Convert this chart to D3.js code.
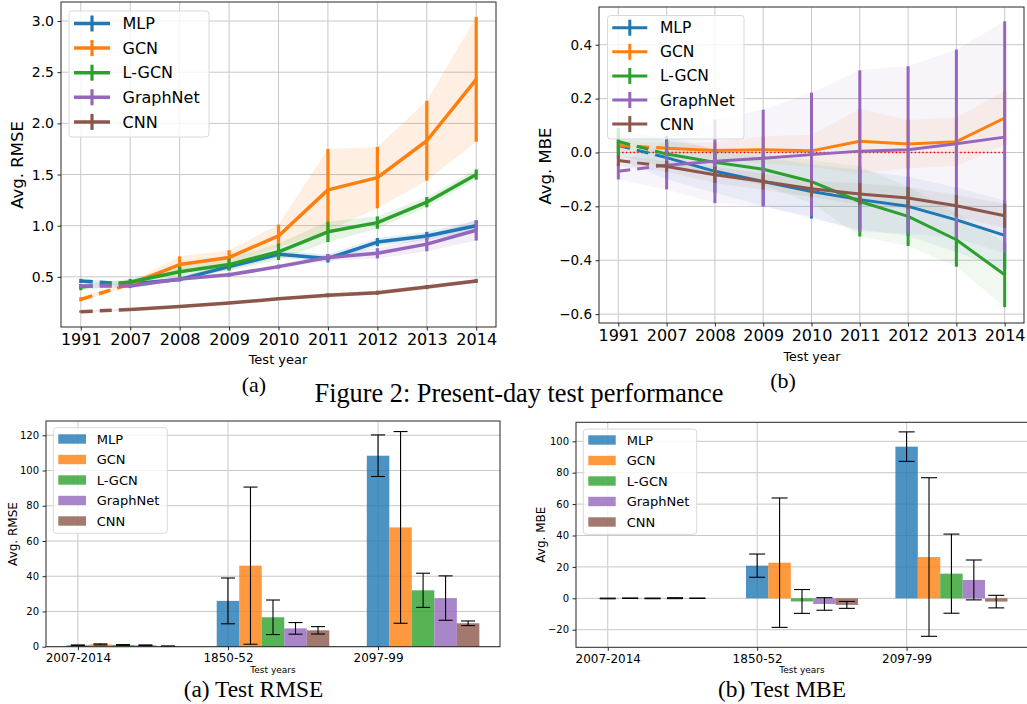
<!DOCTYPE html>
<html><head><meta charset="utf-8">
<script src="https://cdn.jsdelivr.net/npm/d3@7"></script>
<style>
body{margin:0;background:#fff;}
svg{display:block;}
text{font-family:"DejaVu Sans",sans-serif;fill:#000;}
.serif{font-family:"Liberation Serif","Times New Roman",serif;}
</style></head>
<body><svg id="c" width="1027" height="704"></svg>
<script>
// ---------- data ----------
const years = ["1991","2007","2008","2009","2010","2011","2012","2013","2014"];
const models = ["MLP","GCN","L-GCN","GraphNet","CNN"];
const colors = ["#1f77b4","#ff7f0e","#2ca02c","#9467bd","#8c564b"];

// Avg. RMSE (present-day), mean and std
const rmseMLP      = [0.46,0.43,0.475,0.60,0.72,0.68,0.84,0.90,1.00];
const rmseGCN      = [0.28,0.43,0.62,0.69,0.90,1.35,1.47,1.83,2.43];
const rmseLGCN     = [0.40,0.45,0.55,0.62,0.745,0.94,1.03,1.23,1.50];
const rmseGraphNet = [0.41,0.41,0.48,0.52,0.60,0.69,0.73,0.82,0.955];
const rmseCNN      = [0.16,0.18,0.21,0.245,0.285,0.32,0.345,0.40,0.46];
const rmseErrMLP      = [0.02,0.02,0.02,0.03,0.03,0.04,0.04,0.04,0.05];
const rmseErrGCN      = [0.02,0.02,0.08,0.07,0.11,0.40,0.30,0.39,0.61];
const rmseErrLGCN     = [0.03,0.03,0.05,0.06,0.08,0.10,0.06,0.05,0.05];
const rmseErrGraphNet = [0.02,0.02,0.02,0.02,0.02,0.03,0.05,0.07,0.10];
const rmseErrCNN      = [0.01,0.01,0.01,0.01,0.01,0.02,0.02,0.02,0.02];

// Avg. MBE (present-day)
const mbeMLP      = [0.026,-0.019,-0.07,-0.108,-0.145,-0.175,-0.20,-0.25,-0.308];
const mbeGCN      = [0.026,0.016,0.007,0.01,0.006,0.042,0.031,0.04,0.128];
const mbeLGCN     = [0.041,-0.006,-0.036,-0.062,-0.108,-0.182,-0.237,-0.324,-0.454];
const mbeGraphNet = [-0.07,-0.047,-0.033,-0.021,-0.008,0.005,0.01,0.032,0.057];
const mbeCNN      = [-0.03,-0.052,-0.083,-0.108,-0.135,-0.154,-0.169,-0.198,-0.235];
const mbeErrMLP      = [0.05,0.08,0.08,0.09,0.10,0.11,0.11,0.12,0.13];
const mbeErrGCN      = [0.02,0.02,0.03,0.05,0.06,0.12,0.09,0.09,0.10];
const mbeErrLGCN     = [0.05,0.05,0.05,0.06,0.08,0.13,0.11,0.10,0.12];
const mbeErrGraphNet = [0.03,0.09,0.155,0.18,0.23,0.30,0.31,0.35,0.43];
const mbeErrCNN      = [0.02,0.02,0.03,0.03,0.03,0.04,0.04,0.04,0.045];

// Bar charts
const testGroups = ["2007-2014","1850-52","2097-99"];
const barRmseMLP      = [0.8,26,108.4];
const barRmseGCN      = [1.3,46,67.7];
const barRmseLGCN     = [1.0,16.7,32];
const barRmseGraphNet = [0.8,10.4,27.6];
const barRmseCNN      = [0.3,9.3,13.3];
const barRmseErrMLP      = [0.2,13,11.8];
const barRmseErrGCN      = [0.3,44.6,54.4];
const barRmseErrLGCN     = [0.2,9.8,9.7];
const barRmseErrGraphNet = [0.2,3.3,12.6];
const barRmseErrCNN      = [0.05,2.1,1.3];

const barMbeMLP      = [-0.1,20.8,96.6];
const barMbeGCN      = [0.05,22.7,26.3];
const barMbeLGCN     = [-0.05,-2,15.7];
const barMbeGraphNet = [0.1,-3.6,11.7];
const barMbeCNN      = [0.02,-4.2,-2.1];
const barMbeErrMLP      = [0.2,7.4,9.4];
const barMbeErrGCN      = [0.15,41.2,50.5];
const barMbeErrLGCN     = [0.2,7.6,25.2];
const barMbeErrGraphNet = [0.3,4,12.7];
const barMbeErrCNN      = [0.1,2.2,4];

// tick labels
const rmseTicks = [0.5,1.0,1.5,2.0,2.5,3.0];
const mbeTicks = [-0.6,-0.4,-0.2,0.0,0.2,0.4];
const barRmseTicks = [0,20,40,60,80,100,120];
const barMbeTicks = [-20,0,20,40,60,80,100];

// ---------- drawing ----------
const svg = d3.select("#c");
const GRID = "#c8c8c8", FRAME = "#262626";

function frameAndGrid(g, x, y, box, xVals, yTicks){
  g.append("g").selectAll("line").data(xVals).join("line")
    .attr("x1",d=>x(d)).attr("x2",d=>x(d)).attr("y1",box.t).attr("y2",box.b)
    .attr("stroke",GRID).attr("stroke-width",1);
  g.append("g").selectAll("line").data(yTicks).join("line")
    .attr("x1",box.l).attr("x2",box.r).attr("y1",d=>y(d)).attr("y2",d=>y(d))
    .attr("stroke",GRID).attr("stroke-width",1);
}
function axes(g, x, y, box, xVals, xLabels, yTicks, fmt, o){
  const ya = g.append("g").attr("transform",`translate(${box.l},0)`)
    .call(d3.axisLeft(y).tickValues(yTicks).tickFormat(fmt).tickSize(3.5).tickPadding(3.5));
  ya.select(".domain").remove();
  ya.selectAll("line").attr("stroke",FRAME);
  ya.selectAll("text").style("font-family","DejaVu Sans").style("font-size",o.yFont+"px").attr("fill","#000");
  const xa = g.append("g").attr("transform",`translate(0,${box.b})`)
    .call(d3.axisBottom(x).tickValues(xVals).tickFormat((d,i)=>xLabels[i]).tickSize(3.5).tickPadding(3.5));
  xa.select(".domain").remove();
  xa.selectAll("line").attr("stroke",FRAME);
  xa.selectAll("text").style("font-family","DejaVu Sans").style("font-size",o.xFont+"px").attr("fill","#000");
  g.append("rect").attr("x",box.l).attr("y",box.t).attr("width",box.r-box.l).attr("height",box.b-box.t)
    .attr("fill","none").attr("stroke",FRAME).attr("stroke-width",1);
  g.append("text").attr("x",o.xlab[0]).attr("y",o.xlab[1]).attr("text-anchor","middle")
    .style("font-size",o.xlabFont+"px").text(o.xlabText);
  g.append("text").attr("transform",`translate(${o.ylab[0]},${o.ylab[1]}) rotate(-90)`)
    .attr("text-anchor","middle").style("font-size",o.ylabFont+"px").text(o.ylabText);
}

function linePlot(o){
  const g = svg.append("g");
  const box = o.box;
  const idx = years.map((d,i)=>i);
  const x = d3.scaleLinear().domain([-0.4, years.length-1+0.4]).range([box.l, box.r]);
  const y = d3.scaleLinear().domain(o.yDomain).range([box.b, box.t]);
  frameAndGrid(g,x,y,box,idx,o.yTicks);
  o.series.forEach((s,k)=>{
    const area = d3.area().x((d,i)=>x(i)).y0((d,i)=>y(d - s.err[i])).y1((d,i)=>y(d + s.err[i]));
    g.append("path").attr("d",area(s.vals)).attr("fill",colors[k]).attr("fill-opacity",o.bandAlpha);
  });
  if(o.zeroLine){
    g.append("line").attr("x1",x(0)).attr("x2",x(years.length-1)).attr("y1",y(0)).attr("y2",y(0))
      .attr("stroke","red").attr("stroke-width",1.4).attr("stroke-dasharray","1.4,2.4");
  }
  const line = d3.line().x(d=>x(d[0])).y(d=>y(d[1]));
  o.series.forEach((s,k)=>{
    const pts = s.vals.map((v,i)=>[i,v]);
    g.append("path").attr("d",line(pts.slice(0,2))).attr("fill","none").attr("stroke",colors[k])
      .attr("stroke-width",o.lw).attr("stroke-dasharray","12,7");
    g.append("path").attr("d",line(pts.slice(1))).attr("fill","none").attr("stroke",colors[k])
      .attr("stroke-width",o.lw).attr("stroke-linejoin","round");
    g.append("g").selectAll("line").data(pts).join("line")
      .attr("x1",d=>x(d[0])).attr("x2",d=>x(d[0]))
      .attr("y1",d=>y(d[1]-s.err[d[0]])).attr("y2",d=>y(d[1]+s.err[d[0]]))
      .attr("stroke",colors[k]).attr("stroke-width",o.ew);
  });
  axes(g,x,y,box,idx,years,o.yTicks,d3.format(".1f"),o);
  const L = o.legend;
  g.append("rect").attr("x",L.x).attr("y",L.y).attr("width",L.w).attr("height",L.h).attr("rx",3)
    .attr("fill","#fff").attr("fill-opacity",0.8).attr("stroke","#d9d9d9");
  models.forEach((m,k)=>{
    const cy = L.y0 + k*L.dy;
    g.append("line").attr("x1",L.hx).attr("x2",L.hx+L.hw).attr("y1",cy).attr("y2",cy)
      .attr("stroke",colors[k]).attr("stroke-width",o.lw);
    g.append("line").attr("x1",L.hx+L.hw/2).attr("x2",L.hx+L.hw/2).attr("y1",cy-8).attr("y2",cy+8)
      .attr("stroke",colors[k]).attr("stroke-width",o.ew);
    g.append("text").attr("x",L.tx).attr("y",cy).attr("dy","0.36em").style("font-size",L.font+"px").text(m);
  });
}

function barPlot(o){
  const g = svg.append("g");
  const box = o.box;
  const idx = testGroups.map((d,i)=>i);
  const bw = 0.15;
  const x = d3.scaleLinear().domain([-0.2125, 2.8125]).range([box.l, box.r]);
  const y = d3.scaleLinear().domain(o.yDomain).range([box.b, box.t]);
  frameAndGrid(g,x,y,box,idx,o.yTicks);
  o.series.forEach((s,k)=>{
    const gg = g.append("g");
    gg.selectAll("rect").data(s.vals).join("rect")
      .attr("x",(d,i)=>x(i + k*bw - bw/2)).attr("width",x(bw)-x(0))
      .attr("y",d=>y(Math.max(0,d))).attr("height",d=>Math.abs(y(d)-y(0)))
      .attr("fill",colors[k]).attr("fill-opacity",0.8);
    s.vals.forEach((v,i)=>{
      const cx = x(i + k*bw), e = s.err[i];
      gg.append("line").attr("x1",cx).attr("x2",cx).attr("y1",y(v-e)).attr("y2",y(v+e)).attr("stroke","#000").attr("stroke-width",1.1);
      [v-e,v+e].forEach(t=>gg.append("line").attr("x1",cx-o.cap).attr("x2",cx+o.cap).attr("y1",y(t)).attr("y2",y(t))
        .attr("stroke","#000").attr("stroke-width",1.1));
    });
  });
  axes(g,x,y,box,idx,testGroups,o.yTicks,d3.format("d"),o);
  const L = o.legend;
  g.append("rect").attr("x",L.x).attr("y",L.y).attr("width",L.w).attr("height",L.h).attr("rx",3)
    .attr("fill","#fff").attr("fill-opacity",0.8).attr("stroke","#d9d9d9");
  models.forEach((m,k)=>{
    const cy = L.y0 + k*L.dy;
    g.append("rect").attr("x",L.hx).attr("y",cy-4.7).attr("width",L.hw).attr("height",9.4)
      .attr("fill",colors[k]).attr("fill-opacity",0.8);
    g.append("text").attr("x",L.tx).attr("y",cy).attr("dy","0.36em").style("font-size",L.font+"px").text(m);
  });
}

linePlot({
  box:{l:61,r:496,t:2,b:327}, yDomain:[0.01,3.186], yTicks:rmseTicks,
  series:[{vals:rmseMLP,err:rmseErrMLP},{vals:rmseGCN,err:rmseErrGCN},{vals:rmseLGCN,err:rmseErrLGCN},
          {vals:rmseGraphNet,err:rmseErrGraphNet},{vals:rmseCNN,err:rmseErrCNN}],
  bandAlpha:0.12, lw:3.5, ew:3.2, yFont:14, xFont:16, xlabFont:13, ylabFont:16.5,
  xlab:[278,364], xlabText:"Test year", ylab:[23,165], ylabText:"Avg. RMSE",
  legend:{x:69,y:11,w:140,h:126,y0:23.5,dy:24.6,hx:74,hw:36,tx:122.5,font:16}
});
linePlot({
  box:{l:599,r:1024,t:7,b:323}, yDomain:[-0.633,0.54], yTicks:mbeTicks, zeroLine:true,
  series:[{vals:mbeMLP,err:mbeErrMLP},{vals:mbeGCN,err:mbeErrGCN},{vals:mbeLGCN,err:mbeErrLGCN},
          {vals:mbeGraphNet,err:mbeErrGraphNet},{vals:mbeCNN,err:mbeErrCNN}],
  bandAlpha:0.07, lw:3, ew:3, yFont:13.5, xFont:16, xlabFont:12.6, ylabFont:16.5,
  xlab:[812,361], xlabText:"Test year", ylab:[551,166], ylabText:"Avg. MBE",
  legend:{x:607.5,y:15.5,w:136.5,h:123.5,y0:27.7,dy:24.1,hx:612.3,hw:35,tx:660,font:15.5}
});
barPlot({
  box:{l:46,r:500,t:421,b:646.7}, yDomain:[0,128.1], yTicks:barRmseTicks, cap:7,
  series:[{vals:barRmseMLP,err:barRmseErrMLP},{vals:barRmseGCN,err:barRmseErrGCN},{vals:barRmseLGCN,err:barRmseErrLGCN},
          {vals:barRmseGraphNet,err:barRmseErrGraphNet},{vals:barRmseCNN,err:barRmseErrCNN}],
  yFont:10, xFont:12, xlabFont:9, ylabFont:12,
  xlab:[273,673], xlabText:"Test years", ylab:[16.5,534], ylabText:"Avg. RMSE",
  legend:{x:53.3,y:427.7,w:114,h:105.6,y0:439,dy:20.5,hx:58.3,hw:27.7,tx:96.7,font:13}
});
barPlot({
  box:{l:576,r:1028,t:422.3,b:647.3}, yDomain:[-31.2,112.1], yTicks:barMbeTicks, cap:8,
  series:[{vals:barMbeMLP,err:barMbeErrMLP},{vals:barMbeGCN,err:barMbeErrGCN},{vals:barMbeLGCN,err:barMbeErrLGCN},
          {vals:barMbeGraphNet,err:barMbeErrGraphNet},{vals:barMbeCNN,err:barMbeErrCNN}],
  yFont:10, xFont:12, xlabFont:9, ylabFont:12,
  xlab:[802,673], xlabText:"Test years", ylab:[545,534.7], ylabText:"Avg. MBE",
  legend:{x:583.3,y:429,w:113.4,h:105.3,y0:440,dy:20.5,hx:588.3,hw:27.4,tx:626.7,font:13}
});

// captions
const cap = (x,y,s,t)=>svg.append("text").attr("class","serif").attr("x",x).attr("y",y)
  .attr("text-anchor","middle").style("font-size",s+"px").text(t);
cap(254,392,22,"(a)");
cap(783,388,22,"(b)");
cap(519,402,26.3,"Figure 2: Present-day test performance");
cap(253.5,697,23.4,"(a) Test RMSE");
cap(782,697,23.4,"(b) Test MBE");
</script></body></html>
